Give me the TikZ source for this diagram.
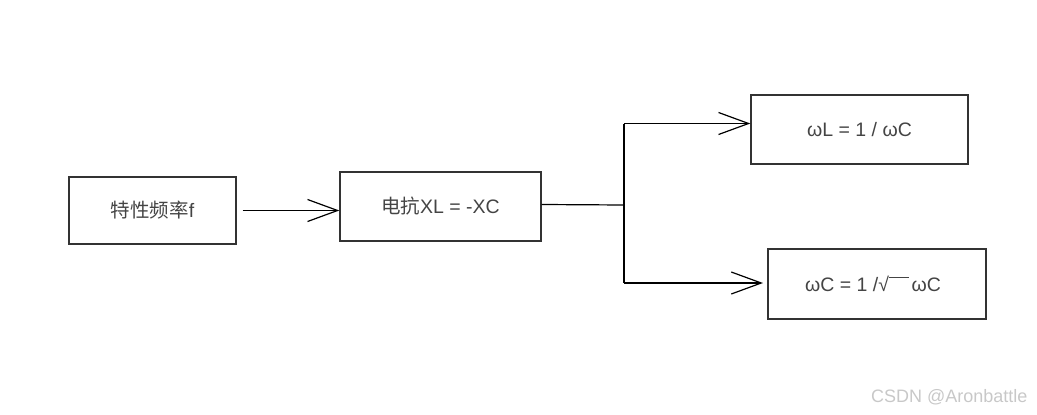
\documentclass[tikz,border=0pt]{standalone}
\usepackage{fontspec}
\setmainfont{Liberation Sans}
\newfontfamily\cjk{Noto Sans CJK SC}
\usetikzlibrary{arrows.meta}
\definecolor{txt}{HTML}{444444}
\definecolor{frame}{HTML}{333333}
\definecolor{wm}{HTML}{C8C8C8}
\tikzset{
  box/.style={draw=frame, line width=1.4pt, rectangle, inner sep=0pt, text=txt, font=\fontsize{19.5}{22}\selectfont},
  conn/.style={draw=black, line width=1.2pt},
  arr/.style={conn, -{Straight Barb[length=30pt,width=22pt,line width=1.2pt]}},
}
\begin{document}
\begin{tikzpicture}[x=1pt,y=-1pt]
\useasboundingbox (0,0) rectangle (1037,415);
\node[box, minimum width=167pt, minimum height=67pt] (b1) at (152.5,210.5) {{\cjk 特性频率}f};
\node[box, minimum width=201pt, minimum height=69pt] (b2) at (440.5,206.5) {{\cjk 电抗}XL = -XC};
\node[box, minimum width=217pt, minimum height=69pt] (b3) at (859.5,129.5) {ωL = 1 / ωC};
\node[box, minimum width=218pt, minimum height=70pt] (b4) at (877,284) {\hspace*{-8pt}ωC = 1 /√\raisebox{0.70em}{\rule{1em}{0.06em}}\hspace{0.15em}ωC};
\coordinate (j) at (624,205);
\coordinate (t) at (624,123.5);
\coordinate (bt) at (624,283);
\coordinate (b4in) at (763,283);
\draw[arr] ([xshift=6pt]b1.east) -- (b1.east -| b2.west);
\draw[conn] ([yshift=2pt]b2.east) -- (j);
\draw[conn] (t) -- (bt);
\draw[arr] (t) -- (t -| b3.west);
\draw[arr] (bt) -- (b4in);
\node[text=wm, font=\fontsize{18}{20}\selectfont, anchor=east] (wmk) at (1031,397) {CSDN @Aronbattle};
\end{tikzpicture}
\end{document}
